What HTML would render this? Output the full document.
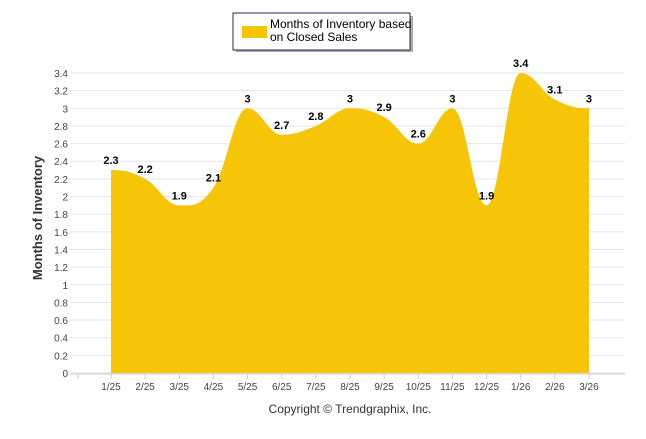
<!DOCTYPE html>
<html><head><meta charset="utf-8"><style>
body{margin:0;background:#fff;font-family:"Liberation Sans",sans-serif}
svg text{font-family:"Liberation Sans",sans-serif}
</style></head><body>
<svg width="646" height="434">
<g id="grid"></g>
<path id="area" fill="#f7c508"/>
<g id="xax"></g>
<g id="yax"></g>
<g id="lbl"></g>
<text x="0" y="0" transform="translate(42,218) rotate(-90)" text-anchor="middle" font-size="13" font-weight="bold" fill="#333">Months of Inventory</text>
<text x="350" y="413" text-anchor="middle" font-size="12" fill="#333">Copyright © Trendgraphix, Inc.</text>
<g>
<rect x="236" y="16" width="177" height="36" fill="#555" opacity="0.5"/>
<rect x="233" y="13" width="177" height="37" fill="#fff" stroke="#1f2d4d" stroke-width="1"/>
<rect x="242" y="26" width="25" height="12" fill="#f7c508"/>
<text x="270" y="28" font-size="12" fill="#000">Months of Inventory based</text>
<text x="270" y="41" font-size="12" fill="#000">on Closed Sales</text>
</g>
</svg>
<script>
const categories=["1/25","2/25","3/25","4/25","5/25","6/25","7/25","8/25","9/25","10/25","11/25","12/25","1/26","2/26","3/26"];
const values=[2.3,2.2,1.9,2.1,3,2.7,2.8,3,2.9,2.6,3,1.9,3.4,3.1,3];
const yTicks=[0,0.2,0.4,0.6,0.8,1,1.2,1.4,1.6,1.8,2,2.2,2.4,2.6,2.8,3,3.2,3.4];
const NS="http://www.w3.org/2000/svg";
const x=i=>111+i*34.14;
const y=v=>373-v*(300/3.4);
function mk(t,a,p){const e=document.createElementNS(NS,t);for(const k in a)e.setAttribute(k,a[k]);p.appendChild(e);return e;}
const grid=document.getElementById('grid'),yax=document.getElementById('yax'),xax=document.getElementById('xax'),lbl=document.getElementById('lbl');
yTicks.forEach(v=>{
 const l=mk('line',{x1:70,x2:625,y1:y(v),y2:y(v),stroke:'#e6e6e6','stroke-width':1},grid);
 
 
 const t=mk('text',{x:68,y:y(v)+4,'text-anchor':'end','font-size':10,fill:'#444'},yax);
 t.textContent=String(v);
 
 
});
mk('line',{x1:70,x2:625,y1:374,y2:374,stroke:'#ccd',"stroke-width":1},xax);
categories.forEach((c,i)=>{
 mk('line',{x1:x(i),x2:x(i),y1:374,y2:379,stroke:'#ccd'},xax);
 const t=mk('text',{x:x(i),y:390,'text-anchor':'middle','font-size':10,fill:'#444'},xax);
 t.textContent=c;
 
 
});
mk('line',{x1:78,x2:78,y1:374,y2:379,stroke:'#ccd'},xax);
// monotone-ish cubic spline
const pts=values.map((v,i)=>[x(i),y(v)]);
let d=`M${pts[0][0]},${y(0)} L${pts[0][0]},${pts[0][1]}`;
const sl=pts.map((p,i)=>{
 if(i==0||i==pts.length-1)return 0;
 const a=(p[1]-pts[i-1][1]),b=(pts[i+1][1]-p[1]);
 if(a*b<=0)return 0;return (a+b)/2/34.14;});
for(let i=0;i<pts.length-1;i++){
 const p=pts[i],q=pts[i+1],h=(q[0]-p[0])/2.5;
 d+=` C${p[0]+h},${p[1]+sl[i]*h} ${q[0]-h},${q[1]-sl[i+1]*h} ${q[0]},${q[1]}`;
}
d+=` L${pts[pts.length-1][0]},${y(0)} Z`;
document.getElementById('area').setAttribute('d',d);
values.forEach((v,i)=>{
 const t=mk('text',{x:x(i),y:y(v)-6,'text-anchor':'middle','font-size':11,'font-weight':'bold',fill:'#000'},lbl);
 t.textContent=String(v);
 
 
});
</script>
</body></html>
